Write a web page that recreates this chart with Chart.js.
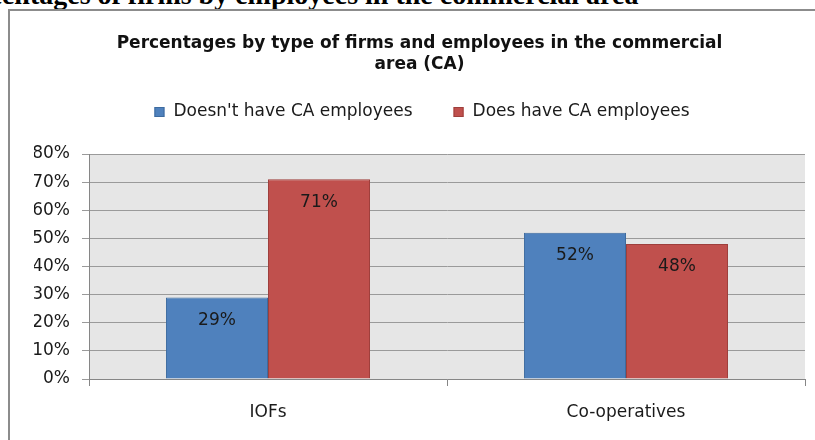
<!DOCTYPE html>
<html>
<head>
<meta charset="utf-8">
<script src="https://cdn.jsdelivr.net/npm/chart.js@4.4.0/dist/chart.umd.min.js"></script>
<style>
  html, body { margin: 0; padding: 0; background: #fff; }
  body { width: 815px; height: 440px; position: relative; overflow: hidden; }
  #heading {
    position: absolute; left: -52px; top: -19px; white-space: nowrap; line-height: 28px;
    font-family: "Liberation Serif", serif; font-weight: bold; font-size: 28px; color: #000;
  }
  #box {
    position: absolute; left: 8px; top: 9px; width: 820px; height: 450px;
    border: 2px solid #8c8c8c; box-sizing: border-box;
  }
  #chartWrap { position: absolute; left: 0; top: 0; width: 815px; height: 440px; }
</style>
</head>
<body>
<div id="heading">Percentages of firms by employees in the commercial area</div>
<div id="box"></div>
<div id="chartWrap"><canvas id="barChart"></canvas></div>
<script>
const categories = ['IOFs', 'Co-operatives'];
const noEmployees = [0.29, 0.52];
const withEmployees = [0.71, 0.48];
const yTicks = [0, 0.1, 0.2, 0.3, 0.4, 0.5, 0.6, 0.7, 0.8];

const font = '"DejaVu Sans", sans-serif';
const textColor = '#1a1a1a';

// grey plot background
const plotBackground = {
    id: 'plotBackground',
    beforeDraw(chart) {
        const { ctx, chartArea } = chart;
        ctx.save();
        ctx.fillStyle = '#e6e6e6';
        ctx.fillRect(chartArea.left, chartArea.top, chartArea.right - chartArea.left, chartArea.bottom - chartArea.top);
        ctx.restore();
    }
};

// percentage labels just under the top of each bar
const barLabels = {
    id: 'barLabels',
    afterDatasetsDraw(chart) {
        const { ctx } = chart;
        ctx.save();
        ctx.font = '17px ' + font;
        ctx.fillStyle = textColor;
        ctx.textAlign = 'center';
        ctx.textBaseline = 'middle';
        chart.data.datasets.forEach((ds, i) => {
            chart.getDatasetMeta(i).data.forEach((bar, j) => {
                ctx.fillText(Math.round(ds.data[j] * 100) + '%', bar.x, bar.y + 23);
            });
        });
        ctx.restore();
    }
};

// one-row legend between the title and the plot
const legendRow = {
    id: 'legendRow',
    afterDraw(chart) {
        const { ctx } = chart;
        const boxSize = 10, textGap = 9, itemGap = 41, y = 112, centerX = 422;
        ctx.save();
        ctx.font = '17px ' + font;
        ctx.textBaseline = 'middle';
        const items = chart.data.datasets.map((ds) => ({
            text: ds.label,
            fill: ds.backgroundColor,
            stroke: ds.borderColor,
            width: ctx.measureText(ds.label).width
        }));
        const total = items.reduce((s, it) => s + boxSize + textGap + it.width, 0) + itemGap * (items.length - 1);
        let x = centerX - total / 2;
        items.forEach((it) => {
            ctx.fillStyle = it.fill;
            ctx.fillRect(x, y - boxSize / 2, boxSize, boxSize);
            ctx.strokeStyle = it.stroke;
            ctx.lineWidth = 1;
            ctx.strokeRect(x + 0.5, y - boxSize / 2 + 0.5, boxSize - 1, boxSize - 1);
            x += boxSize + textGap;
            ctx.fillStyle = textColor;
            ctx.fillText(it.text, x, y);
            x += it.width + itemGap;
        });
        ctx.restore();
    }
};

const ctx = document.getElementById('barChart').getContext('2d');
const barChart = new Chart(ctx, {
    type: 'bar',
    data: {
        labels: categories,
        datasets: [
            {
                label: "Doesn't have CA employees",
                data: noEmployees,
                backgroundColor: '#4f81bd',
                borderColor: '#3d6b9f',
                borderWidth: 1
            },
            {
                label: 'Does have CA employees',
                data: withEmployees,
                backgroundColor: '#c0504d',
                borderColor: '#9e3f3c',
                borderWidth: 1
            }
        ]
    },
    options: {
        responsive: true,
        maintainAspectRatio: false,
        animation: false,
        datasets: {
            bar: {
                categoryPercentage: 0.57,
                barPercentage: 1
            }
        },
        layout: {
            padding: { left: 34, right: 10, top: 0, bottom: 0 }
        },
        plugins: {
            legend: { display: false },
            title: {
                display: true,
                text: ['Percentages by type of firms and employees in the commercial', 'area (CA)'],
                color: '#111',
                font: { family: font, size: 17, weight: 'bold', lineHeight: 1.25 },
                padding: { top: 33, bottom: 78.5 }
            },
            tooltip: { enabled: false }
        },
        scales: {
            x: {
                afterFit(axis) { axis.height = 61; },
                grid: {
                    offset: true,
                    drawOnChartArea: false,
                    color: '#868686',
                    tickLength: 7
                },
                border: { color: '#868686' },
                ticks: {
                    color: textColor,
                    padding: 16,
                    font: { family: font, size: 17 }
                }
            },
            y: {
                min: 0,
                max: 0.8,
                afterFit(axis) { axis.width = 55; },
                afterBuildTicks(axis) {
                    axis.ticks = yTicks.map((v) => ({ value: v }));
                },
                grid: {
                    color: '#9a9a9a',
                    tickLength: 7
                },
                border: { color: '#868686' },
                ticks: {
                    color: textColor,
                    padding: 12,
                    font: { family: font, size: 17 },
                    callback: (v) => Math.round(v * 100) + '%'
                }
            }
        }
    },
    plugins: [plotBackground, barLabels, legendRow]
});
</script>
</body>
</html>
